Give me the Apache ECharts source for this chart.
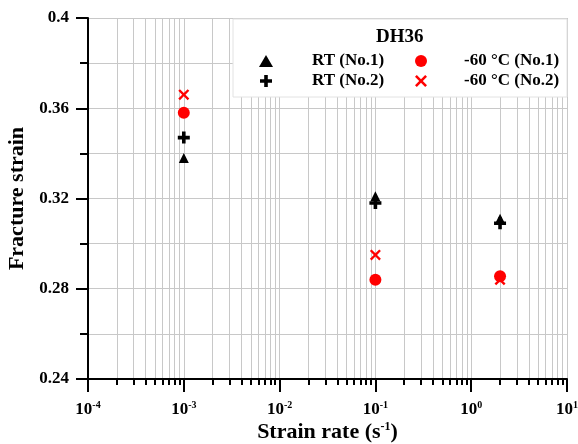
<!DOCTYPE html>
<html>
<head>
<meta charset="utf-8">
<script src="https://cdn.jsdelivr.net/npm/echarts@6/dist/echarts.min.js"></script>
<style>
  html, body { margin: 0; padding: 0; background: #fff; }
  #chart { width: 578px; height: 444px; }
</style>
</head>
<body>
<div id="chart"></div>
<script>
// strain rates (s^-1)
var rates = [1e-3, 1e-1, 2];
// fracture strain per specimen
var rtNo1 = [0.338, 0.321, 0.311];
var rtNo2 = [0.347, 0.318, 0.309];
var lowNo1 = [0.358, 0.284, 0.2855];
var lowNo2 = [0.366, 0.295, 0.284];
var seriesNames = ['RT (No.1)', 'RT (No.2)', '-60 °C (No.1)', '-60 °C (No.2)'];
var decades = [1e-4, 1e-3, 1e-2, 1e-1, 1, 10];
var decadeLabels = ['-4', '-3', '-2', '-1', '0', '1'];

var serif = 'Liberation Serif';
var plusPath = 'path://M3.5,0h3v3.5h3.5v3h-3.5v3.5h-3v-3.5h-3.5v-3h3.5z';
var crossPath = 'path://M0,1.5L1.5,0L5,3.5L8.5,0L10,1.5L6.5,5L10,8.5L8.5,10L5,6.5L1.5,10L0,8.5L3.5,5Z';

// every 1..9 x 10^n between the decades
var minorVals = [];
for (var d = 0; d < decades.length - 1; d++) {
    for (var k = 1; k <= 9; k++) minorVals.push(+(decades[d] * k).toPrecision(3));
}
minorVals.push(10);

function pairs(ys) {
    return rates.map(function (r, i) { return [r, ys[i]]; });
}

var myChart = echarts.init(document.getElementById('chart'));

var legendText = { fontFamily: serif, fontWeight: 'bold', fontSize: 17, lineHeight: 20, color: '#000' };

var option = {
    animation: false,
    grid: { left: 88, right: 11, top: 18, bottom: 65, outerBoundsMode: 'none', containLabel: false },
    graphic: [
        {
            type: 'rect', z: 3,
            shape: { x: 233, y: 19, width: 334, height: 78 },
            style: { fill: '#fff', stroke: '#e2e2e2', lineWidth: 1 }
        },
        {
            type: 'text', z: 6, left: 376, top: 28,
            style: { text: 'DH36', font: 'bold 19px ' + serif, fill: '#000' }
        }
    ],
    legend: [
        {
            data: seriesNames.slice(0, 2), orient: 'vertical', z: 5,
            left: 254, top: 46, itemGap: 0, itemWidth: 14, itemHeight: 12,
            textStyle: Object.assign({ padding: [0, 0, 0, 34] }, legendText)
        },
        {
            data: seriesNames.slice(2), orient: 'vertical', z: 5,
            left: 410, top: 46, itemGap: 0, itemWidth: 14, itemHeight: 12,
            textStyle: Object.assign({ padding: [0, 0, 0, 31] }, legendText)
        }
    ],
    xAxis: [
        {
            type: 'log', logBase: 10, min: 1e-4, max: 10,
            axisLine: { show: true, onZero: false, lineStyle: { color: '#000', width: 2 } },
            axisTick: { show: true, length: 6, customValues: minorVals, lineStyle: { color: '#000', width: 2 } },
            axisLabel: { show: false },
            splitLine: { show: true, lineStyle: { color: '#c8c8c8', width: 1 } },
            minorTick: { show: false },
            name: 'Strain rate (s{sup|-1})',
            nameLocation: 'middle', nameGap: 42,
            nameTextStyle: {
                fontFamily: serif, fontWeight: 'bold', fontSize: 22, color: '#000',
                rich: { sup: { fontFamily: serif, fontWeight: 'bold', fontSize: 12, color: '#000', verticalAlign: 'top', padding: [0, 0, 9, 0] } }
            }
        },
        {
            type: 'log', logBase: 10, min: 1e-4, max: 10, position: 'bottom',
            axisLine: { show: false },
            axisTick: { show: true, length: 13, customValues: decades, lineStyle: { color: '#000', width: 2 } },
            axisLabel: {
                show: true, margin: 21, customValues: decades,
                fontFamily: serif, fontWeight: 'bold', fontSize: 17, color: '#000',
                formatter: function (v) {
                    var i = decades.findIndex(function (d) { return Math.abs(Math.log10(d) - Math.log10(v)) < 1e-6; });
                    return '{base|10}{sup|' + decadeLabels[i] + '}';
                },
                rich: {
                    base: { fontFamily: serif, fontWeight: 'bold', fontSize: 17, color: '#000' },
                    sup: { fontFamily: serif, fontWeight: 'bold', fontSize: 10, color: '#000', verticalAlign: 'top', padding: [0, 0, 9, 0] }
                }
            },
            splitLine: { show: false }
        }
    ],
    yAxis: {
        type: 'value', min: 0.24, max: 0.4, interval: 0.04,
        axisLine: { show: true, lineStyle: { color: '#000', width: 2 } },
        axisTick: { show: true, length: 12, lineStyle: { color: '#000', width: 2 } },
        minorTick: { show: true, splitNumber: 2, length: 8, lineStyle: { color: '#000', width: 2 } },
        splitLine: { show: true, lineStyle: { color: '#c8c8c8', width: 1 } },
        minorSplitLine: { show: true, lineStyle: { color: '#c8c8c8', width: 1 } },
        axisLabel: { fontFamily: serif, fontWeight: 'bold', fontSize: 17, color: '#000', margin: 19 },
        name: 'Fracture strain', nameLocation: 'middle', nameGap: 44,
        nameTextStyle: { fontFamily: serif, fontWeight: 'bold', fontSize: 22, color: '#000' }
    },
    series: [
        { name: seriesNames[0], type: 'scatter', data: pairs(rtNo1), symbol: 'triangle', symbolSize: 10, itemStyle: { color: '#000', opacity: 1 }, z: 4 },
        { name: seriesNames[1], type: 'scatter', data: pairs(rtNo2), symbol: plusPath, symbolSize: 12, itemStyle: { color: '#000', opacity: 1 }, z: 4 },
        { name: seriesNames[2], type: 'scatter', data: pairs(lowNo1), symbol: 'circle', symbolSize: 12, itemStyle: { color: '#ff0000', opacity: 1 }, z: 4 },
        { name: seriesNames[3], type: 'scatter', data: pairs(lowNo2), symbol: crossPath, symbolSize: 11, itemStyle: { color: '#ff0000', opacity: 1 }, z: 4 }
    ]
};

myChart.setOption(option);
</script>
</body>
</html>
